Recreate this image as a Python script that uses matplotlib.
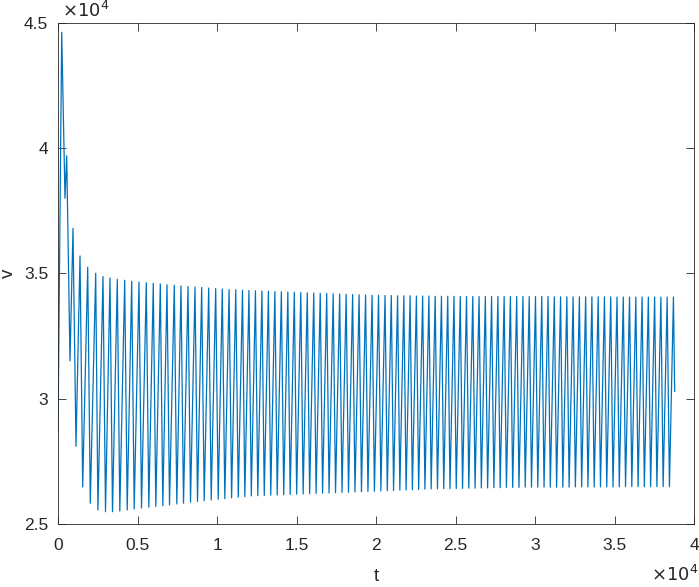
import matplotlib
matplotlib.use("Agg")
import matplotlib.pyplot as plt
import numpy as np

plt.rcParams['font.family'] = ['Liberation Sans', 'DejaVu Sans']

# start / end of the trace (t, v), v in units of 1e4
t_start, v_start = 0, 2.87
t_end, v_end = 38784, 3.03

# local maxima of the oscillation
peak_t = [233, 547, 943, 1384, 1868, 2371, 2830, 3270, 3729, 4195,
          4635, 5094, 5553, 5993, 6434, 6855, 7314, 7735, 8176, 8616,
          9037, 9478, 9918, 10333, 10760, 11180, 11603, 12010, 12418, 12825,
          13233, 13640, 14048, 14455, 14863, 15270, 15678, 16085, 16493, 16900,
          17308, 17715, 18123, 18530, 18938, 19345, 19753, 20160, 20568, 20962,
          21357, 21751, 22145, 22540, 22934, 23328, 23722, 24117, 24511, 24905,
          25300, 25694, 26088, 26483, 26877, 27271, 27666, 28060, 28454, 28849,
          29243, 29637, 30032, 30426, 30820, 31215, 31609, 32003, 32397, 32792,
          33186, 33580, 33975, 34369, 34763, 35158, 35552, 35946, 36341, 36735,
          37129, 37524, 37918, 38312, 38707]
peak_v = [4.463, 3.970, 3.680, 3.570, 3.525, 3.501, 3.488, 3.482, 3.477, 3.473,
          3.469, 3.466, 3.463, 3.461, 3.458, 3.455, 3.453, 3.450, 3.448, 3.446,
          3.444, 3.442, 3.440, 3.438, 3.436, 3.435, 3.433, 3.432, 3.431, 3.430,
          3.429, 3.428, 3.427, 3.426, 3.425, 3.424, 3.423, 3.422, 3.421, 3.420,
          3.419, 3.418, 3.417, 3.416, 3.415, 3.414, 3.413, 3.413, 3.412, 3.412,
          3.411, 3.411, 3.411, 3.410, 3.410, 3.410, 3.409, 3.409, 3.409, 3.409,
          3.408, 3.408, 3.408, 3.408, 3.408, 3.408, 3.408, 3.408, 3.408, 3.408,
          3.408, 3.408, 3.408, 3.408, 3.408, 3.407, 3.407, 3.407, 3.407, 3.407,
          3.407, 3.407, 3.407, 3.407, 3.407, 3.406, 3.406, 3.406, 3.406, 3.406,
          3.406, 3.406, 3.406, 3.406, 3.406]

# local minima (one after each peak except the last)
trough_t = [440, 755, 1132, 1553, 2031, 2510, 2988, 3428, 3887, 4353,
            4793, 5252, 5711, 6151, 6592, 7013, 7472, 7893, 8334, 8774,
            9195, 9636, 10076, 10491, 10918, 11338, 11750, 12157, 12565, 12972,
            13380, 13787, 14195, 14602, 15010, 15417, 15825, 16232, 16640, 17047,
            17455, 17862, 18270, 18677, 19085, 19492, 19900, 20307, 20710, 21104,
            21499, 21893, 22287, 22682, 23076, 23470, 23864, 24259, 24653, 25047,
            25442, 25836, 26230, 26625, 27019, 27413, 27808, 28202, 28596, 28991,
            29385, 29779, 30174, 30568, 30962, 31357, 31751, 32145, 32539, 32934,
            33328, 33722, 34117, 34511, 34905, 35300, 35694, 36088, 36483, 36877,
            37271, 37666, 38060, 38454]
trough_v = [3.800, 3.151, 2.810, 2.648, 2.583, 2.556, 2.549, 2.549, 2.552, 2.556,
            2.560, 2.564, 2.567, 2.570, 2.573, 2.576, 2.580, 2.583, 2.587, 2.590,
            2.593, 2.596, 2.599, 2.601, 2.604, 2.607, 2.609, 2.612, 2.613, 2.614,
            2.615, 2.616, 2.617, 2.618, 2.619, 2.620, 2.621, 2.622, 2.623, 2.624,
            2.625, 2.626, 2.627, 2.628, 2.629, 2.630, 2.631, 2.632, 2.633, 2.634,
            2.635, 2.636, 2.637, 2.638, 2.639, 2.640, 2.640, 2.641, 2.641, 2.642,
            2.642, 2.643, 2.643, 2.644, 2.644, 2.645, 2.645, 2.646, 2.646, 2.646,
            2.647, 2.647, 2.647, 2.647, 2.647, 2.647, 2.647, 2.647, 2.648, 2.648,
            2.648, 2.648, 2.648, 2.648, 2.648, 2.648, 2.649, 2.649, 2.649, 2.649,
            2.649, 2.649, 2.649, 2.649]

x_ticks = [0, 5000, 10000, 15000, 20000, 25000, 30000, 35000, 40000]
x_labels = ['0', '0.5', '1', '1.5', '2', '2.5', '3', '3.5', '4']
y_ticks = [25000, 30000, 35000, 40000, 45000]
y_labels = ['2.5', '3', '3.5', '4', '4.5']

# assemble the trace: start, peak, trough, peak, ..., end
t = [t_start]
v = [v_start]
for i in range(len(peak_t)):
    t.append(peak_t[i]); v.append(peak_v[i])
    if i < len(trough_t):
        t.append(trough_t[i]); v.append(trough_v[i])
t.append(t_end); v.append(v_end)
t = np.array(t)
v = np.array(v) * 1e4

ink = '#262626'
fig = plt.figure(figsize=(6.99, 5.87), dpi=100)
ax = fig.add_axes([58 / 699, 1 - 524 / 587, 636 / 699, 501 / 587])
ax.plot(t, v, color='#0072BD', linewidth=0.9)

ax.set_xlim(0, 40000)
ax.set_ylim(25000, 45000)
ax.set_xticks(x_ticks)
ax.set_xticklabels(x_labels)
ax.set_yticks(y_ticks)
ax.set_yticklabels(y_labels)
ax.tick_params(direction='in', length=6, width=0.6, colors=ink, labelsize=12.5,
               top=True, right=True)
ax.tick_params(axis='x', pad=10)
ax.tick_params(axis='y', pad=7)
for s in ax.spines.values():
    s.set_color(ink)
    s.set_linewidth(0.6)

ax.set_xlabel('t', fontsize=13.5, color=ink, labelpad=11)
ax.set_ylabel('v', fontsize=13.5, color=ink, labelpad=5)

ax.text(0.006, 1.004, r'$\times 10^4$', transform=ax.transAxes, fontsize=13,
        color=ink, ha='left', va='bottom', math_fontfamily='dejavusans')
fig.text(698 / 699, 1 - 585 / 587, r'$\times 10^4$', fontsize=13, color=ink,
         ha='right', va='bottom', math_fontfamily='dejavusans')

fig.savefig('out.png', dpi=100)
